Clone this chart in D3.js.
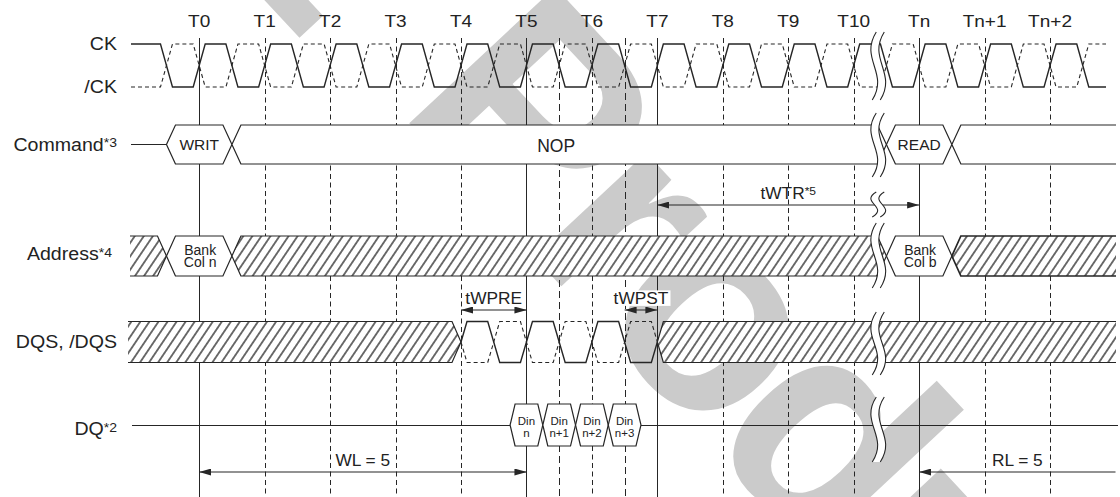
<!DOCTYPE html>
<html>
<head>
<meta charset="utf-8">
<script src="https://cdn.jsdelivr.net/npm/d3@7/dist/d3.min.js"></script>
<style>
  body { margin: 0; background: #fff; }
  svg text { font-family: "Liberation Sans", Arial, Helvetica, sans-serif; fill: #222; }
</style>
</head>
<body>
<svg id="chart" width="1120" height="497"></svg>
<script>
// ---- data ----
const clockLabels = ["T0","T1","T2","T3","T4","T5","T6","T7","T8","T9","T10","Tn","Tn+1","Tn+2"];
const solidMarks = [0, 5, 7, 11];          // clock edges drawn as solid guide lines
const halfMarks = [5.5, 6.5];              // extra dashed guides at half clocks
const rowNames = ["CK", "/CK", "Command", "Address", "DQS, /DQS", "DQ"];
const rowNotes = ["", "", "*3", "*4", "", "*2"];
const commands = [{t: 0, text: "WRIT"}, {t: 11, text: "READ"}];
const idleLabel = "NOP";
const addresses = [{t: 0, lines: ["Bank", "Col n"]}, {t: 11, lines: ["Bank", "Col b"]}];
const dqsWindow = [4, 7];                  // DQS driven from T4 to T7
const dinBeats = ["n", "n+1", "n+2", "n+3"];
const dinStart = 5;                        // first data beat centred on T5, one beat per half clock
const timings = [
  {label: "tWPRE", sup: "", from: 4, to: 5, heads: "both", lane: "dqs"},
  {label: "tWPST", sup: "", from: 6.5, to: 7, heads: "both", lane: "dqs", boxed: true},
  {label: "tWTR", sup: "*5", from: 7, to: 11, heads: "both", lane: "wtr"},
  {label: "WL = 5", sup: "", from: 0, to: 5, heads: "both", lane: "lat"},
  {label: "RL = 5", sup: "", from: 11, to: 14, heads: "start", lane: "lat"}
];
const breakAt = 10.36;                     // time break between T10 and Tn
const watermark = ["EOL", "Product"];

// ---- layout ----
const svg = d3.select("#chart");
const W = 1120, H = 497;
const ink = "#262626";
const x = d3.scaleLinear().domain([0, 13]).range([199.2, 199.2 + 13 * 65.45]);
const xp = t => Math.round(x(t)) + 0.5;
const xStart = 131, xEnd = 1116;

const ckY = {hi: 44, lo: 87};
const cmdY = {top: 125, bot: 164};
const addrY = {top: 236, bot: 276};
const dqsY = {top: 321.5, bot: 362.5};
const dqY = 425.5, dinY = {top: 404, bot: 446};
const laneY = {dqs: 310, wtr: 205, lat: 472};
const labelY = [50, 92.5, 150.5, 260, 348, 435];
const labelX = [117, 117, 117, 112, 117, 117];
const breakRows = [[32, 100], [113, 177], [192, 217], [223, 288], [312, 375], [397, 462]];

const defs = svg.append("defs");
const hatch = defs.append("pattern")
  .attr("id", "hatch")
  .attr("patternUnits", "userSpaceOnUse")
  .attr("width", 7.5).attr("height", 10)
  .attr("patternTransform", "rotate(34)");
hatch.append("rect").attr("width", 7.5).attr("height", 10).attr("fill", "#fff");
hatch.append("line").attr("x1", 3.75).attr("x2", 3.75).attr("y1", -1).attr("y2", 11)
  .attr("stroke", "#111").attr("stroke-width", 1.2);

defs.append("marker")
  .attr("id", "arrow")
  .attr("viewBox", "0 0 12 7")
  .attr("refX", 12).attr("refY", 3.5)
  .attr("markerWidth", 12).attr("markerHeight", 7)
  .attr("markerUnits", "userSpaceOnUse")
  .attr("orient", "auto-start-reverse")
  .append("path").attr("d", "M0,0L12,3.5L0,7Z").attr("fill", ink);

// watermark behind everything
const wm = svg.append("g").attr("transform", "translate(396,109) rotate(47)")
  .style("font-size", "290px").style("font-weight", "bold");
wm.append("text").attr("x", -109).attr("dy", 22).attr("text-anchor", "end")
  .style("fill", "#cbcbcb").text(watermark[0]);
wm.append("text").attr("x", 0).style("letter-spacing", "-11px")
  .style("fill", "#cbcbcb").text(watermark[1]);

// guide lines
const marks = clockLabels.map((d, i) => i).concat(halfMarks);
svg.append("g").selectAll("line").data(marks).join("line")
  .attr("x1", d => xp(d)).attr("x2", d => xp(d))
  .attr("y1", 38).attr("y2", H)
  .attr("stroke", ink).attr("stroke-width", 1)
  .attr("stroke-dasharray", d => solidMarks.includes(d) ? null : (halfMarks.includes(d) ? "7,4" : "5,3.5"));

// clock labels (slightly wide lettering)
svg.append("g").selectAll("g").data(clockLabels).join("g")
  .attr("transform", (d, i) => `translate(${x(i)},27) scale(1.12,1)`)
  .append("text").attr("text-anchor", "middle").style("font-size", "17px").text(d => d);

// row labels
rowNames.forEach((name, i) => {
  const t = svg.append("g")
    .attr("transform", `translate(${labelX[i]},${labelY[i]}) scale(1.12,1)`)
    .append("text").attr("text-anchor", "end").style("font-size", "17.5px");
  t.append("tspan").text(name);
  if (rowNotes[i]) t.append("tspan").attr("dy", -3.5).style("font-size", "12.5px").text(rowNotes[i]);
});

// generic bus segment (hexagon / open ended band)
function bus(g, x0, x1, y0, y1, e, fill, openL, openR, sw) {
  const m = (y0 + y1) / 2;
  const L = openL ? [[x0, y1], [x0, y0]] : [[x0 + e, y1], [x0, m], [x0 + e, y0]];
  const R = openR ? [[x1, y0], [x1, y1]] : [[x1 - e, y0], [x1, m], [x1 - e, y1]];
  const ring = L.concat(R);
  g.append("path").attr("d", d3.line()(ring) + "Z").attr("fill", fill).attr("stroke", "none");
  let d;
  if (!openL && !openR) d = d3.line()(ring) + "Z";
  else if (openL && openR) d = `M${x0},${y0}H${x1}M${x0},${y1}H${x1}`;
  else if (openL) d = d3.line()([[x0, y0]].concat(R, [[x0, y1]]));
  else d = d3.line()([[x1, y1]].concat(L, [[x1, y0]]));
  g.append("path").attr("d", d).attr("fill", "none").attr("stroke", ink).attr("stroke-width", sw || 1.2);
}

// ---- CK / /CK ----
const ckEdges = d3.range(-0.5, 14, 0.5);
function clockLine(inverted) {
  const lvl = up => (up !== inverted) ? ckY.hi : ckY.lo;
  const pts = [[xStart, lvl(true)]];
  ckEdges.forEach(t => {
    const rising = Number.isInteger(t);
    pts.push([x(t) - 6, lvl(!rising)], [x(t) + 6, lvl(rising)]);
  });
  pts.push([xEnd - 10, pts[pts.length - 1][1]]);
  return d3.line()(pts);
}
svg.append("path").attr("d", clockLine(false)).attr("fill", "none").attr("stroke", ink).attr("stroke-width", 1.4);
svg.append("path").attr("d", clockLine(true)).attr("fill", "none").attr("stroke", ink).attr("stroke-width", 1.1)
  .attr("stroke-dasharray", "4,3");

// ---- Command ----
const gCmd = svg.append("g");
const cmdMid = (cmdY.top + cmdY.bot) / 2;
gCmd.append("line").attr("x1", xStart).attr("x2", x(commands[0].t - 0.5))
  .attr("y1", cmdMid).attr("y2", cmdMid).attr("stroke", ink).attr("stroke-width", 1.2);
commands.forEach((c, i) => {
  bus(gCmd, x(c.t - 0.5), x(c.t + 0.5), cmdY.top, cmdY.bot, 9, "#fff", false, false);
  gCmd.append("text").attr("x", x(c.t)).attr("y", 150).attr("text-anchor", "middle")
    .style("font-size", "15.5px").text(c.text);
  const next = commands[i + 1];
  if (next) {
    bus(gCmd, x(c.t + 0.5), x(next.t - 0.5), cmdY.top, cmdY.bot, 9, "#fff", false, false);
    gCmd.append("text").attr("x", (x(c.t + 0.5) + x(next.t - 0.5)) / 2 - 3).attr("y", 151.5)
      .attr("text-anchor", "middle").style("font-size", "17.5px").text(idleLabel);
  } else {
    bus(gCmd, x(c.t + 0.5), xEnd, cmdY.top, cmdY.bot, 9, "#fff", false, true);
  }
});

// ---- Address ----
const gAddr = svg.append("g");
bus(gAddr, xStart - 1, x(addresses[0].t - 0.5), addrY.top, addrY.bot, 9, "url(#hatch)", true, false);
addresses.forEach((a, i) => {
  bus(gAddr, x(a.t - 0.5), x(a.t + 0.5), addrY.top, addrY.bot, 9, "#fff", false, false);
  a.lines.forEach((ln, j) => {
    gAddr.append("text").attr("x", x(a.t) + 1).attr("y", 254.5 + j * 12.5).attr("text-anchor", "middle")
      .style("font-size", "14px").text(ln);
  });
  const next = addresses[i + 1];
  if (next) bus(gAddr, x(a.t + 0.5), x(next.t - 0.5), addrY.top, addrY.bot, 9, "url(#hatch)", false, false);
  else bus(gAddr, x(a.t + 0.5), xEnd, addrY.top, addrY.bot, 9, "url(#hatch)", false, true, 1.7);
});

// ---- DQS, /DQS ----
const gDqs = svg.append("g");
bus(gDqs, xStart - 3, x(dqsWindow[0]), dqsY.top, dqsY.bot, 9, "url(#hatch)", true, false);
bus(gDqs, x(dqsWindow[1]), xEnd, dqsY.top, dqsY.bot, 6, "url(#hatch)", false, true);
function dqsLine(inverted) {
  const lvl = up => (up !== inverted) ? dqsY.top : dqsY.bot;
  const mid = (dqsY.top + dqsY.bot) / 2;
  const pts = [[x(dqsWindow[0]), mid], [x(dqsWindow[0]) + 6, lvl(true)]];
  d3.range(dqsWindow[0] + 0.5, dqsWindow[1], 0.5).forEach(t => {
    const rising = Number.isInteger(t);
    pts.push([x(t) - 6, lvl(!rising)], [x(t) + 6, lvl(rising)]);
  });
  pts.push([x(dqsWindow[1]) - 6, lvl(false)], [x(dqsWindow[1]), mid]);
  return d3.line()(pts);
}
gDqs.append("path").attr("d", dqsLine(false)).attr("fill", "none").attr("stroke", ink).attr("stroke-width", 1.4);
gDqs.append("path").attr("d", dqsLine(true)).attr("fill", "none").attr("stroke", ink).attr("stroke-width", 1.1)
  .attr("stroke-dasharray", "4,3");

// ---- DQ ----
const gDq = svg.append("g");
const dinFirst = dinStart - 0.25, dinLast = dinStart + (dinBeats.length - 1) * 0.5 + 0.25;
gDq.append("line").attr("x1", xStart + 1).attr("x2", x(dinFirst)).attr("y1", dqY).attr("y2", dqY)
  .attr("stroke", ink).attr("stroke-width", 1.2);
gDq.append("line").attr("x1", x(dinLast)).attr("x2", xEnd + 2).attr("y1", dqY).attr("y2", dqY)
  .attr("stroke", ink).attr("stroke-width", 1.2);
dinBeats.forEach((b, i) => {
  const c = dinStart + i * 0.5;
  bus(gDq, x(c - 0.25), x(c + 0.25), dinY.top, dinY.bot, 5, "#fff", false, false);
  gDq.append("text").attr("x", x(c)).attr("y", 425).attr("text-anchor", "middle")
    .style("font-size", "11.5px").text("Din");
  gDq.append("text").attr("x", x(c)).attr("y", 437).attr("text-anchor", "middle")
    .style("font-size", "11.5px").text(b);
});

// ---- timing arrows ----
const gTim = svg.append("g");
timings.forEach(tm => {
  const y = laneY[tm.lane];
  gTim.append("line")
    .attr("x1", x(tm.from)).attr("x2", x(tm.to))
    .attr("y1", y).attr("y2", y)
    .attr("stroke", ink).attr("stroke-width", 1.1)
    .attr("marker-start", "url(#arrow)")
    .attr("marker-end", tm.heads === "both" ? "url(#arrow)" : null);
  const g = gTim.append("g")
    .attr("transform", `translate(${(x(tm.from) + x(tm.to)) / 2},${y - 6}) scale(1.05,1)`);
  const t = g.append("text").attr("text-anchor", "middle").style("font-size", "16.5px");
  t.append("tspan").text(tm.label);
  if (tm.sup) t.append("tspan").attr("dy", -4).style("font-size", "11.5px").text(tm.sup);
  if (tm.boxed) {
    const bb = t.node().getBBox();
    g.insert("rect", "text").attr("x", bb.x - 2).attr("y", bb.y + 1)
      .attr("width", bb.width + 4).attr("height", bb.height - 3).attr("fill", "#fff");
  }
});

// ---- time break squiggles ----
const xb = x(breakAt);
function sCurve(dx, top, bot) {
  const h = bot - top;
  return [[xb + dx + 3, top], [xb + dx - 14, top + 0.4 * h], [xb + dx + 16, top + 0.6 * h], [xb + dx - 1, bot]];
}
const gBrk = svg.append("g");
breakRows.forEach(([top, bot]) => {
  const a = sCurve(-4, top, bot), b = sCurve(4, top, bot);
  const cub = c => `C${c[1]},${c[2]},${c[3]}`;
  gBrk.append("path")
    .attr("d", `M${a[0]}${cub(a)}L${b[3]}C${b[2]},${b[1]},${b[0]}Z`)
    .attr("fill", "#fff").attr("stroke", "none");
  [a, b].forEach(c => gBrk.append("path").attr("d", `M${c[0]}${cub(c)}`)
    .attr("fill", "none").attr("stroke", ink).attr("stroke-width", 1.1));
});
</script>
</body>
</html>
